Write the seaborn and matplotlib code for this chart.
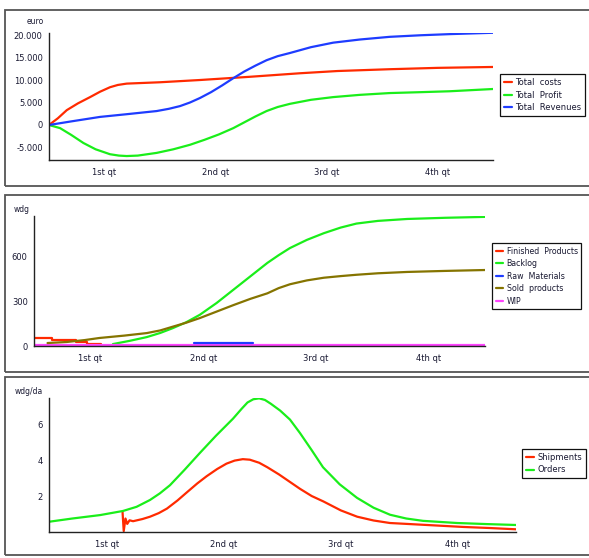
import matplotlib
matplotlib.use("Agg")
import matplotlib.pyplot as plt
import matplotlib.ticker as mticker
from matplotlib.patches import Rectangle
import seaborn as sns

sns.set_theme(style="white")
plt.rcParams['font.family'] = ['DejaVu Sans']

# ---------------- data (x in quarters of the year) ----------------
quarter_labels = ["1st qt", "2nd qt", "3rd qt", "4th qt"]

costs_q = [0, 0.08, 0.16, 0.26, 0.37, 0.46, 0.55, 0.62, 0.7, 0.8, 1.0, 1.36, 1.8,
           2.26, 2.6, 3.07, 3.5, 4.0]
costs_v = [0, 1500, 3300, 4800, 6200, 7400, 8400, 8900, 9200, 9300, 9500, 10000, 10700,
           11500, 12000, 12400, 12700, 12900]

profit_q = [0, 0.1, 0.2, 0.31, 0.42, 0.55, 0.63, 0.7, 0.8, 0.97, 1.12, 1.27, 1.4, 1.53,
            1.66, 1.76, 1.86, 1.96, 2.06, 2.17, 2.36, 2.56, 2.8, 3.07, 3.35, 3.61, 4.0]
profit_v = [0, -700, -2200, -4000, -5400, -6500, -6800, -6900, -6800, -6200, -5400, -4400,
            -3300, -2100, -700, 600, 1900, 3100, 4000, 4700, 5600, 6200, 6700, 7100, 7300,
            7500, 8000]

revenue_q = [0, 0.2, 0.46, 0.7, 0.97, 1.08, 1.18, 1.27, 1.36, 1.46, 1.56, 1.66, 1.76, 1.86,
             1.96, 2.06, 2.17, 2.36, 2.56, 2.8, 3.07, 3.35, 3.61, 4.0]
revenue_v = [0, 800, 1800, 2400, 3100, 3600, 4200, 5000, 6000, 7300, 8800, 10400, 11900,
             13200, 14400, 15300, 16000, 17300, 18300, 19000, 19600, 19950, 20200, 20500]

finished_q = [0, 0.16, 0.37, 0.47, 0.59]
finished_v = [56, 40, 27, 13, 13]

backlog_q = [0.7, 0.85, 1.0, 1.12, 1.23, 1.35, 1.47, 1.62, 1.77, 1.92, 2.07, 2.17, 2.27,
             2.42, 2.57, 2.72, 2.86, 3.05, 3.31, 3.65, 4.0]
backlog_v = [13, 35, 60, 88, 120, 160, 210, 290, 380, 470, 560, 612, 660,
             715, 760, 798, 825, 843, 856, 864, 870]

raw_q = [1.42, 1.94]
raw_v = [18, 18]

sold_q = [0.12, 0.29, 0.45, 0.58, 0.8, 1.0, 1.12, 1.23, 1.35, 1.47, 1.62, 1.77, 1.92, 2.07,
          2.17, 2.27, 2.42, 2.57, 2.72, 2.86, 3.05, 3.31, 3.65, 4.0]
sold_v = [20, 27, 40, 54, 70, 87, 105, 130, 157, 188, 232, 276, 318, 355,
          390, 416, 442, 460, 471, 480, 490, 499, 506, 512]

wip_q = [0, 4.0]
wip_v = [6, 6]

ship_q = [0.63, 0.64, 0.655, 0.67, 0.69, 0.72, 0.8, 0.865, 0.94, 1.01, 1.1, 1.18, 1.27,
          1.35, 1.44, 1.52, 1.59, 1.66, 1.72, 1.8, 1.87, 1.97, 2.06, 2.15, 2.25, 2.35,
          2.5, 2.64, 2.78, 2.92, 3.15, 3.35, 3.55, 3.78, 4.0]
ship_v = [1.1, 0.05, 0.75, 0.45, 0.65, 0.6, 0.72, 0.85, 1.05, 1.3, 1.75, 2.2, 2.7,
          3.1, 3.5, 3.8, 3.97, 4.05, 4.02, 3.85, 3.6, 3.2, 2.8, 2.4, 2.0, 1.7,
          1.2, 0.85, 0.64, 0.5, 0.42, 0.35, 0.28, 0.22, 0.15]

orders_q = [0, 0.2, 0.437, 0.634, 0.75, 0.865, 0.95, 1.036, 1.16, 1.293, 1.43, 1.576,
            1.65, 1.7, 1.75, 1.8, 1.85, 1.9, 1.98, 2.064, 2.15, 2.25, 2.347, 2.49, 2.638,
            2.78, 2.921, 3.06, 3.203, 3.495, 3.75, 4.0]
orders_v = [0.57, 0.75, 0.94, 1.17, 1.4, 1.78, 2.15, 2.6, 3.45, 4.4, 5.35, 6.3,
            6.85, 7.2, 7.38, 7.43, 7.34, 7.13, 6.75, 6.25, 5.5, 4.55, 3.6, 2.65, 1.9,
            1.35, 0.96, 0.75, 0.62, 0.5, 0.44, 0.39]

RED = "#ff2a00"
GREEN = "#1aee1a"
BLUE = "#1e3cff"
OLIVE = "#857400"
PINK = "#ff44ff"
TXT = "#1a1a33"

W, H = 589, 558
fig = plt.figure(figsize=(W / 100, H / 100), dpi=100)
fig.patch.set_facecolor("white")


def px_axes(left, top, right, bottom):
    return fig.add_axes([left / W, 1 - bottom / H, (right - left) / W, (bottom - top) / H])


def frame(top, bottom):
    fig.patches.append(Rectangle((5 / W, 1 - bottom / H), (590 - 5) / W, (bottom - top) / H,
                                 transform=fig.transFigure, fill=False,
                                 edgecolor="#555555", linewidth=1.3))


def style(ax, ylim, yticks, fmt=None):
    ax.set_xlim(0, 4)
    ax.set_ylim(*ylim)
    for s in ["top", "right"]:
        ax.spines[s].set_visible(False)
    for s in ["left", "bottom"]:
        ax.spines[s].set_color("#222222")
        ax.spines[s].set_linewidth(1.0)
    ax.set_xticks([0, 1, 2, 3, 4])
    ax.set_xticklabels([])
    ax.set_xticks([0.5, 1.5, 2.5, 3.5], minor=True)
    ax.set_xticklabels(quarter_labels, minor=True)
    ax.tick_params(axis="x", which="major", direction="inout", length=7, width=1, color="#222222")
    ax.tick_params(axis="x", which="minor", length=0, pad=6, labelsize=6, labelcolor=TXT)
    ax.set_yticks(yticks)
    if fmt is not None:
        ax.yaxis.set_major_formatter(mticker.FuncFormatter(fmt))
    ax.tick_params(axis="y", direction="inout", length=6, width=1, color="#222222",
                   labelsize=6, labelcolor=TXT, pad=1.5)
    ax.set_xlabel("")
    ax.set_ylabel("")
    ax.patch.set_alpha(0)


def legend(ax, x0, y0, fs=6, handles=None, labels=None):
    kw = dict(loc="upper left", bbox_to_anchor=(x0 / W, 1 - y0 / H),
              bbox_transform=fig.transFigure, frameon=True, fancybox=False,
              edgecolor="#111111", framealpha=1, fontsize=fs, handlelength=1.0,
              handletextpad=0.4, borderpad=0.45, labelspacing=0.45, borderaxespad=0)
    if handles is not None:
        lg = ax.legend(handles, labels, **kw)
    else:
        lg = ax.legend(**kw)
    lg.get_frame().set_linewidth(0.9)
    for t in lg.get_texts():
        t.set_color(TXT)


def thousands(v, pos):
    return f"{int(v):,}".replace(",", ".")


LW = 1.6

# ---------------- panel 1 ----------------
frame(10, 186)
ax1 = px_axes(49, 33, 493, 160)
sns.lineplot(x=costs_q, y=costs_v, ax=ax1, color=RED, lw=LW, label="Total  costs")
sns.lineplot(x=profit_q, y=profit_v, ax=ax1, color=GREEN, lw=LW, label="Total  Profit")
sns.lineplot(x=revenue_q, y=revenue_v, ax=ax1, color=BLUE, lw=LW, label="Total  Revenues")
style(ax1, (-7780, 20450), [-5000, 0, 5000, 10000, 15000, 20000], thousands)
legend(ax1, 500, 74)
fig.text(35 / W, 1 - 22 / H, "euro", fontsize=5.5, color=TXT, ha="center", va="center")

# ---------------- panel 2 ----------------
frame(195, 372)
ax2 = px_axes(34, 216, 485, 346)
sns.lineplot(x=finished_q, y=finished_v, ax=ax2, color=RED, lw=LW, label="Finished  Products",
             drawstyle="steps-post")
sns.lineplot(x=backlog_q, y=backlog_v, ax=ax2, color=GREEN, lw=LW, label="Backlog")
sns.lineplot(x=wip_q, y=wip_v, ax=ax2, color=PINK, lw=LW, label="WIP")
sns.lineplot(x=raw_q, y=raw_v, ax=ax2, color=BLUE, lw=LW, label="Raw  Materials")
sns.lineplot(x=sold_q, y=sold_v, ax=ax2, color=OLIVE, lw=LW, label="Sold  products")
style(ax2, (0, 876), [0, 300, 600])
h, l = ax2.get_legend_handles_labels()
order = [l.index(n) for n in ["Finished  Products", "Backlog", "Raw  Materials", "Sold  products", "WIP"]]
legend(ax2, 492, 243, fs=5.7, handles=[h[i] for i in order], labels=[l[i] for i in order])
fig.text(22 / W, 1 - 209 / H, "wdg", fontsize=5.5, color=TXT, ha="center", va="center")

# ---------------- panel 3 ----------------
frame(377, 555)
ax3 = px_axes(49, 398, 516, 532)
sns.lineplot(x=ship_q, y=ship_v, ax=ax3, color=RED, lw=LW, label="Shipments", sort=False)
sns.lineplot(x=orders_q, y=orders_v, ax=ax3, color=GREEN, lw=LW, label="Orders")
style(ax3, (0, 7.45), [2, 4, 6])
legend(ax3, 522, 449)
fig.text(29 / W, 1 - 392 / H, "wdg/da", fontsize=5.5, color=TXT, ha="center", va="center")

fig.savefig("out.png", dpi=100, facecolor="white")
